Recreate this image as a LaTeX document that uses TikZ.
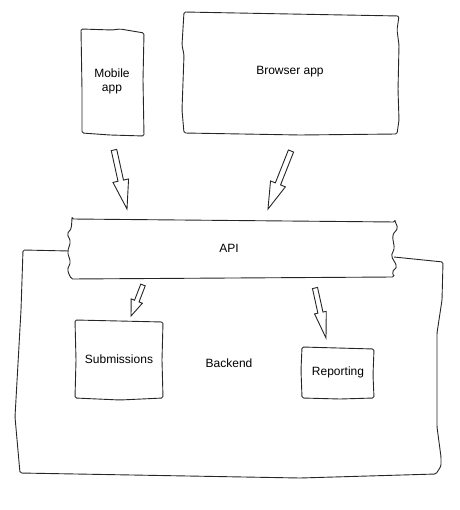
\documentclass[tikz,border=0pt]{standalone}
\usepackage{fontspec}
\setmainfont{Liberation Sans}
\usetikzlibrary{calc}
\tikzset{
  hand/.style={draw=black!85, line width=0.9pt, line join=round, rounded corners=1.5pt},
  lbl/.style={font=\fontsize{12}{14}\selectfont, align=center, inner sep=0pt},
  harr/.style={draw=black!85, line width=0.9pt, line join=miter, fill=white}
}
% hollow arrow: tail, tip, head length, half head width, half shaft width
\newcommand{\harrow}[5]{%
  \path ($(#2)!#3!(#1)$) coordinate (hb);
  \draw[harr] ($(#1)!#5!90:(#2)$) -- ($(hb)!#5!90:(#2)$) -- ($(hb)!#4!90:(#2)$)
     -- (#2) -- ($(hb)!#4!-90:(#2)$) -- ($(hb)!#5!-90:(#2)$) -- ($(#1)!#5!-90:(#2)$) -- cycle;
}
\begin{document}
\begin{tikzpicture}[x=1pt,y=-1pt]
\useasboundingbox (0,0) rectangle (459,510);

% Mobile app box
\draw[hand] (81,29) -- (112,30) -- (120,29) -- (144,33) -- (143,80) -- (144,136)
  -- (110,135) -- (82,133) -- (82,90) -- cycle;

% Browser app box
\draw[hand] (184,12) -- (290,14) -- (399,16) -- (397,30) -- (399,45) -- (398,90)
  -- (399,120) -- (397,134) -- (300,135) -- (184,133) -- (182,110) -- (184,55)
  -- (182,45) -- cycle;

% Backend outline (joins API sides)
\draw[hand] (69,251) -- (23,250) -- (21,310) -- (15,417) -- (20,473) -- (300,478)
  -- (436,474) -- (441,466) -- (441,457) -- (437,427) -- (437,333) -- (442,300)
  -- (443,262) -- (394,257);

% API box
\draw[hand] (72,219) -- (395,222)
  -- plot[smooth] coordinates {(395,222) (397,228) (393,236) (394,248) (392,256) (396,266) (393,272) (394,277)}
  -- (71,279)
  -- plot[smooth] coordinates {(71,279) (68,270) (70,262) (68,252) (70,242) (68,234) (71,228) (72,219)}
  -- cycle;

% Submissions box
\draw[hand] (75,320) -- (163,322) -- (162,360) -- (163,398) -- (120,400)
  -- (75,398) -- (76,360) -- cycle;

% Reporting box
\draw[hand] (302,347) -- (374,349) -- (373,375) -- (374,398) -- (340,399)
  -- (302,398) -- (301,370) -- cycle;

% labels
\node[lbl] (mobile) at (112,81) {Mobile\\app};
\node[lbl] (browser) at (290,72) {Browser app};
\node[lbl] (api) at (229,248) {API};
\node[lbl] (backend) at (229,363) {Backend};
\node[lbl] (subm) at (119,359) {Submissions};
\node[lbl] (report) at (338,372) {Reporting};

% arrow end points
\coordinate (m1) at (114,150);  \coordinate (m2) at (127,209);
\coordinate (b1) at (291,151);  \coordinate (b2) at (268,209);
\coordinate (s1) at (143,285);  \coordinate (s2) at (131,316);
\coordinate (r1) at (315,288);  \coordinate (r2) at (326,338);

\harrow{m1}{m2}{29pt}{8pt}{2.8pt}
\harrow{b1}{b2}{27pt}{8pt}{2.8pt}
\harrow{s1}{s2}{16pt}{6pt}{2.4pt}
\harrow{r1}{r2}{26pt}{6pt}{2.6pt}
\end{tikzpicture}
\end{document}
